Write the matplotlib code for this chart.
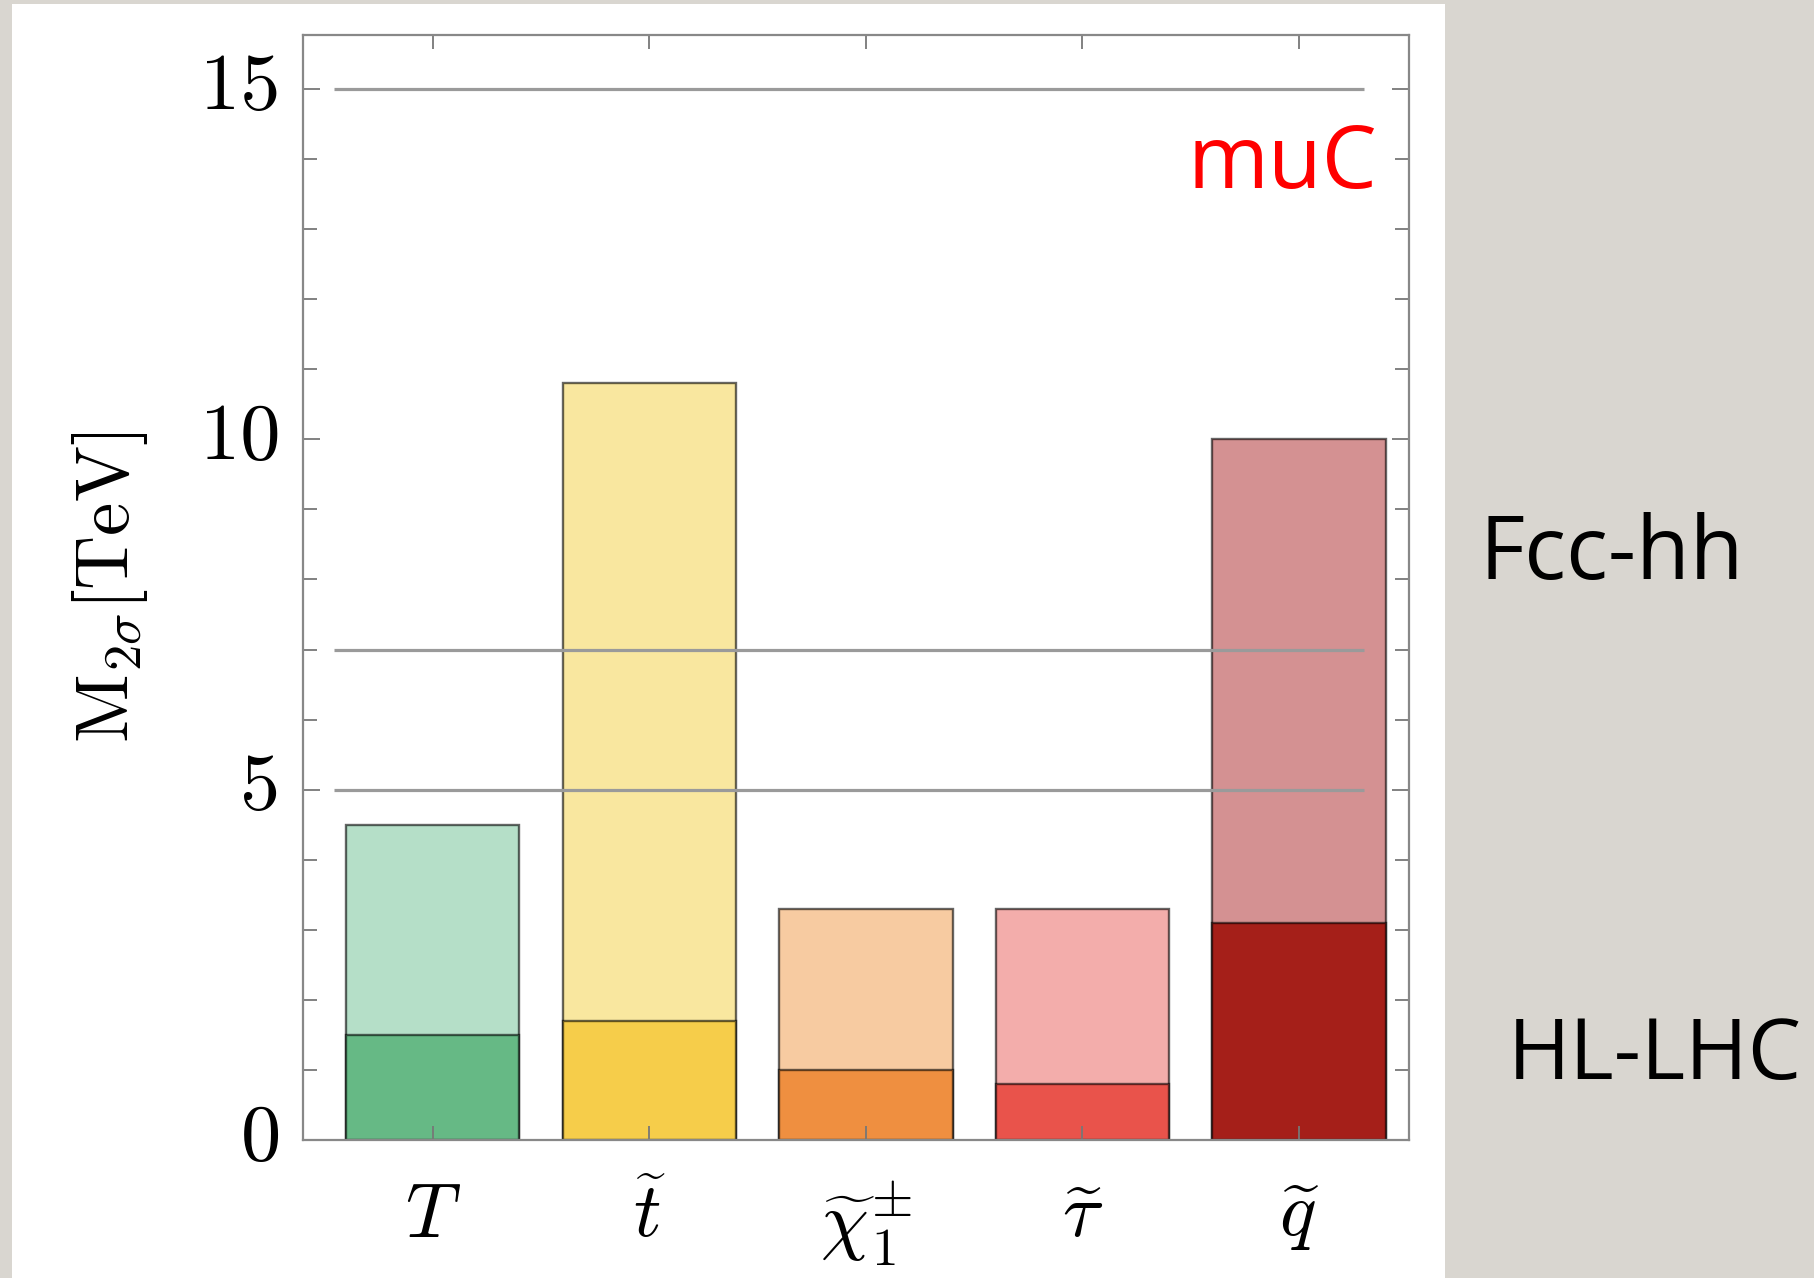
import matplotlib.pyplot as plt
from matplotlib.patches import Rectangle

plt.rcParams['mathtext.fontset'] = 'cm'

# Reach of each particle: HL-LHC (lower) and Fcc-hh (upper), in TeV
particles = [r'$T$', r'$\widetilde{t}$', r'$\widetilde{\chi}_1^{\pm}$',
             r'$\widetilde{\tau}$', r'$\widetilde{q}$']
reach_fcc = [4.5, 10.8, 3.3, 3.3, 10.0]
reach_hllhc = [1.5, 1.7, 1.0, 0.8, 3.1]

colors_fcc = ['#b5dfc8', '#f9e79f', '#f7cba1', '#f3adab', '#d49192']
colors_hllhc = ['#66b985', '#f6cd4a', '#ef8f40', '#e9534b', '#a51f19']

# reference levels drawn across the plot
levels = [5, 7, 15]
level_span = (-0.455, 4.30)

yticks = [0, 5, 10, 15]
yticklabels = ['0', '5', '10', '15']

fig = plt.figure(figsize=(18.15, 12.78), dpi=100)
fig.patch.set_facecolor('#d9d6d0')
fig.patches.append(Rectangle((0.0066, 0.0), 0.7895, 0.9969, transform=fig.transFigure,
                             facecolor='white', edgecolor='none', zorder=-1))

ax = fig.add_axes([0.1669, 0.1080, 0.6094, 0.8646])
ax.set_facecolor('white')

x = list(range(len(particles)))
edge = (0, 0, 0, 0.6)
ax.bar(x, reach_fcc, width=0.8, color=colors_fcc, edgecolor=edge, linewidth=1.7, zorder=1)
ax.bar(x, reach_hllhc, width=0.8, color=colors_hllhc, edgecolor=edge, linewidth=1.7, zorder=1.1)

ax.hlines(levels, level_span[0], level_span[1], colors='#9a9a9a', linewidth=2.3, zorder=2)

ax.set_xlim(-0.6, 4.508)
ax.set_ylim(0, 15.77)

ax.set_xticks(x)
ax.set_xticklabels(particles, fontsize=55)
ax.set_yticks(yticks)
ax.set_yticklabels(yticklabels, fontsize=58, family='cmr10', va='center')
ax.set_yticks(range(0, 16), minor=True)

ax.tick_params(axis='both', which='both', direction='in', colors='#777777',
               top=True, right=True, width=1.3)
ax.tick_params(axis='y', which='major', length=12, pad=16, labelcolor='black')
ax.tick_params(axis='y', which='minor', length=10)
ax.tick_params(axis='x', which='major', length=10, pad=28, labelcolor='black')
for sp in ax.spines.values():
    sp.set_color('#888888')
    sp.set_linewidth(1.6)

ax.set_ylabel(r'$\mathrm{M}_{2\sigma}[\mathrm{TeV}]$', fontsize=54, labelpad=36)

ax.text(4.36, 13.58, 'muC', color='red', fontsize=63, family='Open Sans',
        ha='right', va='baseline')

fig.text(1480 / 1815, 0.547, 'Fcc-hh', color='black', fontsize=63, family='Open Sans',
         ha='left', va='baseline')
fig.text(1508 / 1815, 0.156, 'HL-LHC', color='black', fontsize=61, family='Open Sans',
         ha='left', va='baseline')

fig.savefig('out.png', dpi=100, facecolor=fig.get_facecolor())
